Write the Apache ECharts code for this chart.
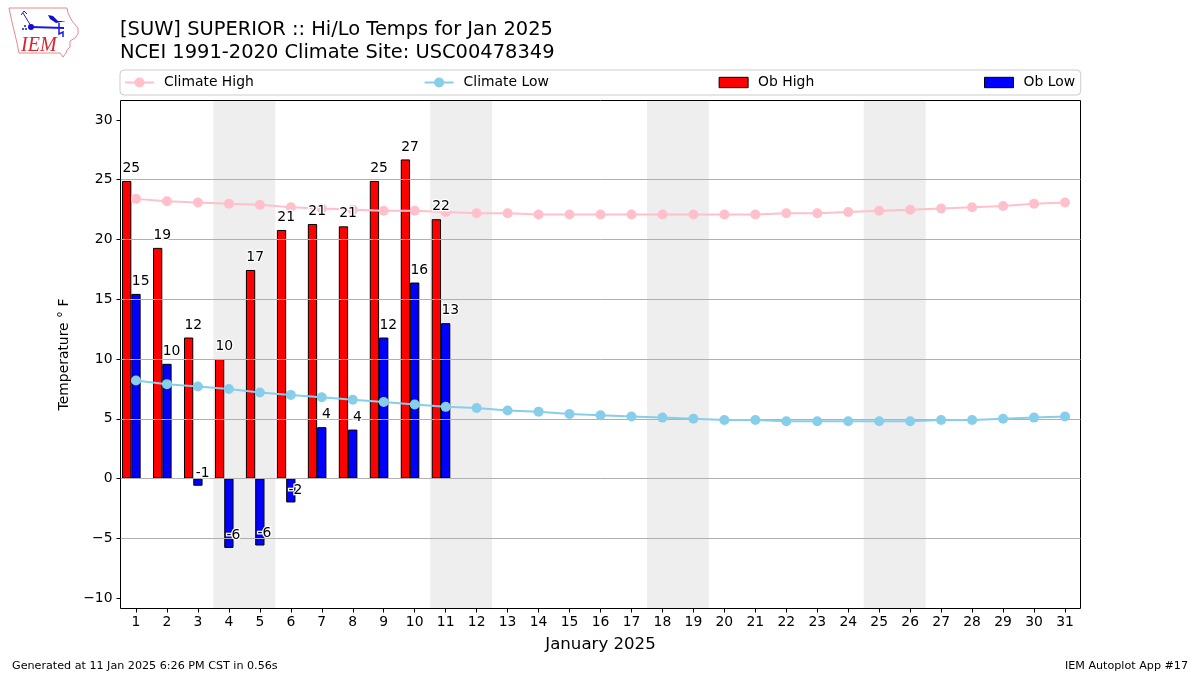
<!DOCTYPE html>
<html><head><meta charset="utf-8">
<style>html,body{margin:0;padding:0;background:#fff}#c{width:1200px;height:675px}</style>
<script src="https://cdn.jsdelivr.net/npm/echarts@6/dist/echarts.min.js"></script>
</head><body><div id="c"></div>
<script>
const days = ['1','2','3','4','5','6','7','8','9','10','11','12','13','14','15','16','17','18','19','20','21','22','23','24','25','26','27','28','29','30','31'];
const climateHigh = [23.4,23.2,23.1,23.0,22.9,22.7,22.6,22.5,22.4,22.4,22.3,22.2,22.2,22.1,22.1,22.1,22.1,22.1,22.1,22.1,22.1,22.2,22.2,22.3,22.4,22.5,22.6,22.7,22.8,23.0,23.1];
const climateLow = [8.2,7.9,7.7,7.5,7.2,7.0,6.8,6.6,6.4,6.2,6.0,5.9,5.7,5.6,5.4,5.3,5.2,5.1,5.0,4.9,4.9,4.8,4.8,4.8,4.8,4.8,4.9,4.9,5.0,5.1,5.2];
const obHigh = [24.9,19.3,11.8,10.0,17.45,20.8,21.3,21.1,24.9,26.7,21.7];
const obLow = [15.45,9.6,-0.6,-5.8,-5.6,-2.0,4.3,4.1,11.8,16.4,13.0];
const weekendSpans = [[3.5,5.5],[10.5,12.5],[17.5,19.5],[24.5,26.5]];
const yTicks = [-10,-5,0,5,10,15,20,25,30];

const FONT = '"DejaVu Sans"';
const labelData = (vals, off) => vals.map((v,i)=>[i+1+off, v]);
const labelSeries = (name, vals, off) => ({
  name, type:'scatter', xAxisIndex:1, yAxisIndex:0, symbolSize:0, z:8, silent:true,
  itemStyle:{opacity:1},
  data: labelData(vals, off),
  label:{show:true, position:'top', align:'center', verticalAlign:'bottom', distance:0, offset:[0,-5.5],
    fontFamily:FONT, fontSize:13.9, color:'#000', textBorderColor:'#fff', textBorderWidth:2.5,
    formatter:p=>String(Math.round(p.value[1]))}
});
const barStyle = c => ({color:c, borderColor:'#000', borderWidth:1});
const barIcon = 'path://M0,0H28V10H0Z';
const legendBar = name => ({name, icon:barIcon, itemStyle:{borderWidth:1, borderColor:'#000'}});

const chart = echarts.init(document.getElementById('c'), null, {renderer:'canvas'});
chart.setOption({
  animation:false,
  backgroundColor:'#fff',
  textStyle:{fontFamily:FONT},
  title:[
    {text:'[SUW] SUPERIOR :: Hi/Lo Temps for Jan 2025\nNCEI 1991-2020 Climate Site: USC00478349', left:120, top:19, padding:0,
      textStyle:{fontFamily:FONT, fontSize:19.45, fontWeight:'normal', color:'#000', lineHeight:22.3}},
    {text:'Generated at 11 Jan 2025 6:26 PM CST in 0.56s', left:12, top:661, padding:0,
      textStyle:{fontFamily:FONT, fontSize:11.15, fontWeight:'normal', color:'#000'}},
    {text:'IEM Autoplot App #17', right:12, top:661, padding:0,
      textStyle:{fontFamily:FONT, fontSize:11.15, fontWeight:'normal', color:'#000'}}
  ],
  legend:{
    left:120, top:70, orient:'horizontal', itemGap:169.8, itemWidth:29, itemHeight:12.5,
    padding:[5.5,5.7,5.5,4], borderColor:'#ccc', borderWidth:1, borderRadius:4,
    textStyle:{fontFamily:FONT, fontSize:13.9, color:'#000', padding:[0,0,0,5]},
    data:[{name:'Climate High'},{name:'Climate Low'},legendBar('Ob High'),legendBar('Ob Low')]
  },
  grid:{left:120.5, right:119.5, top:100.5, bottom:66.5, show:true, z:1, borderColor:'#000', borderWidth:1, backgroundColor:'transparent'},
  xAxis:[
    {type:'category', data:days, boundaryGap:true, name:'January 2025', nameLocation:'middle', nameGap:28,
      nameTextStyle:{fontFamily:FONT, fontSize:16.6, color:'#000'},
      axisLine:{show:false, onZero:false}, axisTick:{show:true, alignWithLabel:true, length:4, lineStyle:{color:'#000'}},
      axisLabel:{interval:0, margin:7, fontFamily:FONT, fontSize:13.9, color:'#000'}, splitLine:{show:false}},
    {type:'value', min:0.5, max:31.5, show:false, splitLine:{show:false}}
  ],
  yAxis:{type:'value', min:-10.87, max:31.63, z:3, name:'Temperature ° F', nameLocation:'middle', nameGap:49,
    nameTextStyle:{fontFamily:FONT, fontSize:13.9, color:'#000'},
    axisLine:{show:false},
    axisTick:{show:true, length:4, lineStyle:{color:'#000'}, customValues:yTicks},
    axisLabel:{fontFamily:FONT, fontSize:13.9, color:'#000', margin:8, customValues:yTicks, formatter:v=>String(v).replace('-','\u2212')},
    splitLine:{show:true, showMinLine:false, showMaxLine:false, lineStyle:{color:'#b0b0b0', width:1}}},
  series:[
    {name:'Weekend', type:'line', xAxisIndex:1, yAxisIndex:0, data:[], silent:true, z:0,
      markArea:{silent:true, z:0, itemStyle:{color:'#eeeeee'}, data:weekendSpans.map(s=>[{xAxis:s[0]},{xAxis:s[1]}])}},
    {name:'Ob High', type:'bar', xAxisIndex:0, data:obHigh, barWidth:'30%', barGap:'0%', itemStyle:barStyle('#ff0000'), z:2},
    {name:'Ob Low', type:'bar', xAxisIndex:0, data:obLow, barWidth:'30%', barGap:'0%', itemStyle:barStyle('#0000ff'), z:2},
    {name:'Spacer', type:'bar', xAxisIndex:0, data:[], barWidth:'30%', barGap:'0%', z:2},
    {name:'Climate High', type:'line', xAxisIndex:0, data:climateHigh, symbol:'circle', symbolSize:10, showSymbol:true,
      lineStyle:{color:'#ffc0cb', width:2}, itemStyle:{color:'#ffc0cb'}, z:5},
    {name:'Climate Low', type:'line', xAxisIndex:0, data:climateLow, symbol:'circle', symbolSize:10, showSymbol:true,
      lineStyle:{color:'#87ceeb', width:2}, itemStyle:{color:'#87ceeb'}, z:5},
    labelSeries('High labels', obHigh, -0.15),
    labelSeries('Low labels', obLow, 0.15)
  ],
  graphic:[
    {type:'polygon', z:10, shape:{points:[[9,8],[67,8],[68,13],[72,21],[78,28],[78,34],[75,38],[70,41],[70,47],[67,50],[66,53],[63,57],[60,53],[19,53],[17,43],[12,22]]},
      style:{fill:'#fff', stroke:'#e88a8a', lineWidth:1}},
    {type:'polyline', z:11, shape:{points:[[31,27],[64,28]]}, style:{stroke:'#1a1ae0', fill:'none', lineWidth:2}},
    {type:'polyline', z:11, shape:{points:[[31,26],[23,13]]}, style:{stroke:'#1a1ae0', fill:'none', lineWidth:1}},
    {type:'polyline', z:11, shape:{points:[[21,15],[24,11],[27,14]]}, style:{stroke:'#1a1ae0', fill:'none', lineWidth:1}},
    {type:'circle', z:11, shape:{cx:31, cy:27, r:3}, style:{fill:'#1010d0'}},
    {type:'circle', z:11, shape:{cx:25, cy:26, r:1}, style:{fill:'#1010d0'}},
    {type:'circle', z:11, shape:{cx:23, cy:29, r:1}, style:{fill:'#1010d0'}},
    {type:'circle', z:11, shape:{cx:26, cy:29, r:1}, style:{fill:'#1010d0'}},
    {type:'polygon', z:11, shape:{points:[[48,15],[53,16],[58,21],[66,21],[56,23],[50,19]]}, style:{fill:'#1010d0'}},
    {type:'polyline', z:11, shape:{points:[[59,23],[59,34],[63,32],[63,37]]}, style:{stroke:'#1a1ae0', fill:'none', lineWidth:1.5}},
    {type:'text', z:11, style:{x:21, y:35.5, text:'IEM', fontFamily:'"Liberation Serif"', fontStyle:'italic', fontSize:20, fill:'#d9232e'}}
  ]
});
</script></body></html>
